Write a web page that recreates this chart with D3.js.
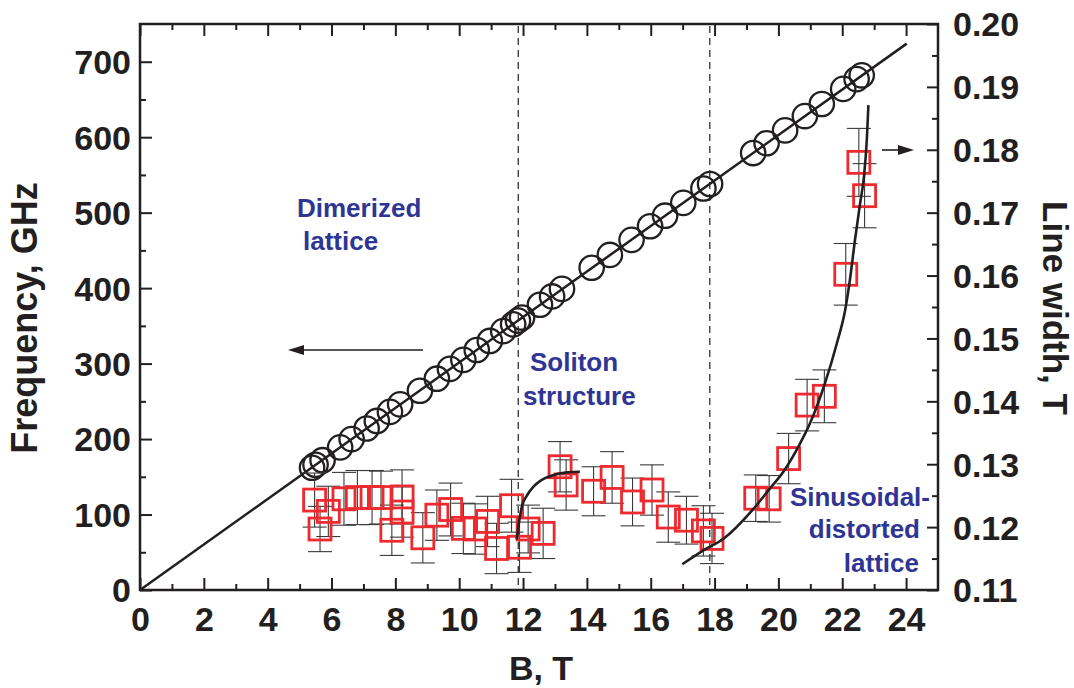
<!DOCTYPE html>
<html><head><meta charset="utf-8">
<script src="https://cdn.jsdelivr.net/npm/d3@7"></script>
<style>
body{margin:0;background:#fff;}
svg{display:block;}
text{font-family:"Liberation Sans",Arial,Helvetica,sans-serif;font-weight:bold;}
</style>
</head><body>
<svg id="chart" width="1074" height="688"></svg>
<script>
// ---- data ----
const circleField = [5.39,5.50,5.72,6.27,6.63,7.10,7.42,7.83,8.15,8.77,9.30,9.71,10.13,10.55,10.96,11.38,11.69,11.84,11.97,12.53,12.91,13.22,14.15,14.72,15.40,15.98,16.45,17.02,17.65,17.86,19.21,19.63,20.21,20.83,21.36,22.03,22.45,22.61];
const circleFreq  = [162,166,172,189,200,214,224,236,246,264,280,293,305,318,330,343,352,357,361,378,389,399,427,444,464,482,496,513,532,538,579,592,609,628,644,664,677,682];

const fitField = [0, 24.02];
const fitFreq  = [0, 724];

const squareField = [5.47,5.64,5.90,6.39,6.81,7.27,7.55,8.21,8.21,7.89,8.86,9.30,9.73,10.13,10.50,10.89,11.17,11.64,11.89,12.16,12.63,13.16,13.35,14.21,14.79,15.43,16.04,16.55,17.12,17.65,17.92,19.29,19.71,20.32,20.90,21.44,22.11,22.52,22.70];
const squareWidth = [0.1243,0.1197,0.1225,0.1245,0.1247,0.1247,0.1247,0.1248,0.1224,0.1195,0.1183,0.1219,0.1228,0.1198,0.1197,0.1209,0.1166,0.1234,0.1168,0.1197,0.1190,0.1296,0.1267,0.1257,0.1279,0.1240,0.1259,0.1216,0.1211,0.1194,0.1182,0.1246,0.1245,0.1309,0.1394,0.1408,0.1602,0.1780,0.1727];
const squareError = [0.0043,0.0036,0.0040,0.0042,0.0043,0.0043,0.0042,0.0043,0.0040,0.0040,0.0040,0.0040,0.0042,0.0040,0.0040,0.0040,0.0040,0.0042,0.0040,0.0038,0.0040,0.0040,0.0040,0.0039,0.0041,0.0038,0.0040,0.0040,0.0038,0.0040,0.0040,0.0037,0.0037,0.0040,0.0041,0.0042,0.0049,0.0054,0.0051];

const solitonCurveField = [11.80,11.88,11.96,12.12,12.32,12.55,12.84,13.37,13.78];
const solitonCurveWidth = [0.1180,0.1210,0.1232,0.1250,0.1264,0.1274,0.1281,0.1287,0.1288];

const sinCurveField = [16.99,17.65,18.29,19.15,19.68,20.21,20.66,20.99,21.46,21.83,22.09,22.24,22.40,22.56,22.68,22.77,22.82];
const sinCurveWidth = [0.1141,0.1163,0.1182,0.1225,0.1258,0.1292,0.1331,0.1365,0.1429,0.1492,0.1545,0.1593,0.1657,0.1715,0.1757,0.1816,0.1871];

const phaseBoundaries = [11.85, 17.85];

const xMajorTicks = [0,2,4,6,8,10,12,14,16,18,20,22,24];
const xMinorTicks = [1,3,5,7,9,11,13,15,17,19,21,23];
const leftMajorTicks = [0,100,200,300,400,500,600,700];
const leftMinorTicks = [50,150,250,350,450,550,650];
const rightMajorTicks = [0.11,0.12,0.13,0.14,0.15,0.16,0.17,0.18,0.19,0.20];
const rightMinorTicks = [0.115,0.125,0.135,0.145,0.155,0.165,0.175,0.185,0.195];

const xTitle = "B, T";
const leftTitle = "Frequency, GHz";
const rightTitle = "Line width, T";

// ---- drawing ----
const svg = d3.select("#chart");
const ink = "#231f20", red = "#ec2a2f", blue = "#2f3594";
const L = 140, R = 938, T = 24, B = 590;

const x  = d3.scaleLinear().domain([0, 25]).range([L, R]);
const yL = d3.scaleLinear().domain([0, 750]).range([B, T]);
const yR = d3.scaleLinear().domain([0.11, 0.20]).range([B, T]);

function styleAxis(g){
  g.select(".domain").remove();
  g.selectAll(".tick line").attr("stroke", ink).attr("stroke-width", 2);
  g.selectAll(".tick text").attr("fill", ink).style("font-size","34px").style("font-weight","bold")
    .style("font-family",'"Liberation Sans",Arial,sans-serif');
}

// bottom
svg.append("g").attr("transform",`translate(0,${B})`)
  .call(d3.axisBottom(x).tickValues(xMajorTicks).tickSize(-12).tickPadding(17).tickFormat(d3.format("d")))
  .call(styleAxis);
svg.append("g").attr("transform",`translate(0,${B})`)
  .call(d3.axisBottom(x).tickValues(xMinorTicks).tickSize(-6).tickFormat(""))
  .call(styleAxis);
// top
svg.append("g").attr("transform",`translate(0,${T})`)
  .call(d3.axisTop(x).tickValues(xMajorTicks).tickSize(-12).tickFormat(""))
  .call(styleAxis);
svg.append("g").attr("transform",`translate(0,${T})`)
  .call(d3.axisTop(x).tickValues(xMinorTicks).tickSize(-6).tickFormat(""))
  .call(styleAxis);
// left
const gl = svg.append("g").attr("transform",`translate(${L},0)`)
  .call(d3.axisLeft(yL).tickValues(leftMajorTicks).tickSize(-12).tickPadding(9).tickFormat(d3.format("d")))
  .call(styleAxis);
gl.selectAll(".tick text").attr("dy","0.35em");
svg.append("g").attr("transform",`translate(${L},0)`)
  .call(d3.axisLeft(yL).tickValues(leftMinorTicks).tickSize(-6).tickFormat(""))
  .call(styleAxis);
// right
const gr = svg.append("g").attr("transform",`translate(${R},0)`)
  .call(d3.axisRight(yR).tickValues(rightMajorTicks).tickSize(-11).tickPadding(15).tickFormat(d3.format(".2f")))
  .call(styleAxis);
gr.selectAll(".tick text").attr("dy","0.35em");
svg.append("g").attr("transform",`translate(${R},0)`)
  .call(d3.axisRight(yR).tickValues(rightMinorTicks).tickSize(-6).tickFormat(""))
  .call(styleAxis);

// frame
svg.append("rect").attr("x",L).attr("y",T).attr("width",R-L).attr("height",B-T)
  .attr("fill","none").attr("stroke",ink).attr("stroke-width",2.5);

// dashed phase boundaries
svg.selectAll("line.phase").data(phaseBoundaries).enter().append("line")
  .attr("class","phase")
  .attr("x1",d=>x(d)).attr("x2",d=>x(d)).attr("y1",T+2).attr("y2",B-2)
  .attr("stroke",ink).attr("stroke-width",1.2).attr("stroke-dasharray","7,5");

// fit line
const lineL = d3.line().x(d=>x(d[0])).y(d=>yL(d[1]));
svg.append("path").datum(d3.zip(fitField, fitFreq)).attr("d", lineL)
  .attr("fill","none").attr("stroke",ink).attr("stroke-width",2.5);

// circles
svg.selectAll("circle.res").data(d3.zip(circleField, circleFreq)).enter().append("circle")
  .attr("class","res").attr("cx",d=>x(d[0])).attr("cy",d=>yL(d[1])).attr("r",12.2)
  .attr("fill","none").attr("stroke",ink).attr("stroke-width",2.3);

// error bars
const sq = squareField.map((b,i)=>({b, w: squareWidth[i], e: squareError[i]}));
const eb = svg.append("g").attr("stroke","#3a3a3a").attr("stroke-width",1.1);
sq.forEach(d=>{
  const cx = x(d.b);
  eb.append("line").attr("x1",cx).attr("x2",cx).attr("y1",yR(d.w+d.e)).attr("y2",yR(d.w-d.e));
  [d.w+d.e, d.w-d.e].forEach(v=>{
    eb.append("line").attr("x1",cx-12).attr("x2",cx+12).attr("y1",yR(v)).attr("y2",yR(v));
  });
});
// squares
const s = 22;
svg.selectAll("rect.lw").data(sq).enter().append("rect")
  .attr("class","lw").attr("x",d=>x(d.b)-s/2).attr("y",d=>yR(d.w)-s/2)
  .attr("width",s).attr("height",s)
  .attr("fill","none").attr("stroke",red).attr("stroke-width",2.8);

// fit curves on right axis
const lineR = d3.line().x(d=>x(d[0])).y(d=>yR(d[1])).curve(d3.curveMonotoneX);
svg.append("path").datum(d3.zip(solitonCurveField, solitonCurveWidth)).attr("d", lineR)
  .attr("fill","none").attr("stroke",ink).attr("stroke-width",2.6);
svg.append("path").datum(d3.zip(sinCurveField, sinCurveWidth)).attr("d", lineR)
  .attr("fill","none").attr("stroke",ink).attr("stroke-width",2.6);

// arrows
function arrow(x1, x2, y){
  const dir = Math.sign(x2 - x1);
  svg.append("line").attr("x1",x1).attr("x2",x2 - dir*10).attr("y1",y).attr("y2",y)
    .attr("stroke",ink).attr("stroke-width",1.6);
  svg.append("path").attr("d",`M${x2},${y} L${x2-dir*16},${y-5} L${x2-dir*16},${y+5} Z`).attr("fill",ink);
}
arrow(423, 288, 350);
arrow(882, 914, 150);

// annotations
const ann = [
  {t:"Dimerized", x:297, y:217, a:"start"},
  {t:"lattice", x:303, y:250, a:"start"},
  {t:"Soliton", x:530, y:371, a:"start"},
  {t:"structure", x:523, y:405, a:"start"},
  {t:"Sinusoidal-", x:930, y:506, a:"end"},
  {t:"distorted", x:920, y:538, a:"end"},
  {t:"lattice", x:919, y:572, a:"end"}
];
svg.selectAll("text.ann").data(ann).enter().append("text")
  .attr("class","ann").attr("x",d=>d.x).attr("y",d=>d.y).attr("text-anchor",d=>d.a)
  .attr("fill",blue).style("font-size","26px").text(d=>d.t);

// axis titles
svg.append("text").attr("x",541).attr("y",680).attr("text-anchor","middle")
  .attr("fill",ink).style("font-size","34px").text(xTitle);
svg.append("text").attr("transform","translate(37,318) rotate(-90)").attr("text-anchor","middle")
  .attr("fill",ink).style("font-size","36px").text(leftTitle);
svg.append("text").attr("transform","translate(1043,308) rotate(90)").attr("text-anchor","middle")
  .attr("fill",ink).style("font-size","35px").text(rightTitle);
</script>
</body></html>
